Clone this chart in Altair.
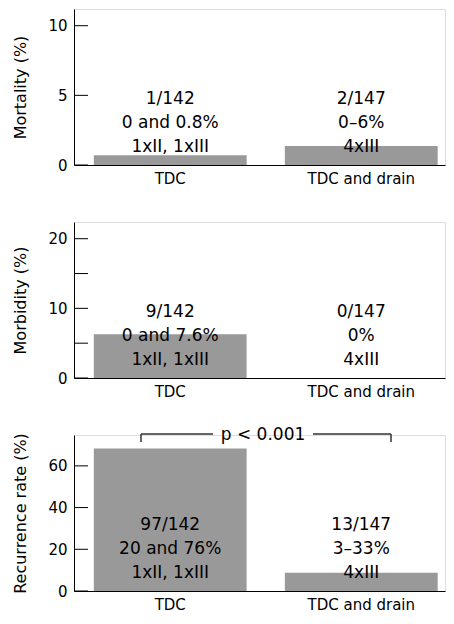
import altair as alt
import pandas as pd

groups = ["TDC", "TDC and drain"]

mortality = [0.7, 1.36]
morbidity = [6.3, 0.0]
recurrence = [68.3, 8.8]

mortality_text = [["1/142", "0 and 0.8%", "1xII, 1xIII"], ["2/147", "0–6%", "4xIII"]]
morbidity_text = [["9/142", "0 and 7.6%", "1xII, 1xIII"], ["0/147", "0%", "4xIII"]]
recurrence_text = [["97/142", "20 and 76%", "1xII, 1xIII"], ["13/147", "3–33%", "4xIII"]]

mortality_ticks = [0, 5, 10]
morbidity_ticks = [0, 5, 10, 15, 20]
recurrence_ticks = [0, 20, 40, 60]

titles = ["Mortality (%)", "Morbidity (%)", "Recurrence rate (%)"]
domain_max = [11.2, 22.4, 74.8]
p_text = "p < 0.001"

W = 371
H = 156
FONT = "DejaVu Sans"


def panel(values, lines, ticks, title, dmax, bracket=False):
    df = pd.DataFrame({
        "group": groups,
        "value": values,
        "label": ["\n".join(l) for l in lines],
    })
    xscale = alt.Scale(domain=groups, paddingInner=0.2, paddingOuter=0.071, align=0.73)
    yscale = alt.Scale(domain=[0, dmax], nice=False, zero=True)
    x = alt.X("group:N", sort=groups, scale=xscale,
              axis=alt.Axis(title=None, labelAngle=0, ticks=False, tickSize=0,
                            labelPadding=6, labelFontSize=15, domainColor="black",
                            labelColor="black", zindex=1, labelFont=FONT))
    y = alt.Y("value:Q", scale=yscale,
              axis=alt.Axis(title=title, values=ticks, ticks=False, tickSize=0, grid=False,
                            labelPadding=7, labelFontSize=15, titleFontSize=16,
                            titleFontWeight="normal", titlePadding=19,
                            domainColor="black", labelColor="black", titleColor="black",
                            zindex=1, labelFont=FONT, titleFont=FONT))
    base = alt.Chart(df)
    bars = base.mark_bar(color="#999999").encode(x=x, y=y)
    txt = base.mark_text(lineBreak="\n", fontSize=17, lineHeight=24, baseline="middle",
                         align="center", color="black", font=FONT).encode(
        x=alt.X("group:N", sort=groups, scale=xscale),
        y=alt.value(H - 66),
        text="label:N",
    )
    tick_df = pd.DataFrame({"value": ticks})
    tick_rules = alt.Chart(tick_df).mark_rule(color="black", strokeWidth=1).encode(
        y=alt.Y("value:Q", scale=yscale),
        x=alt.value(0),
        x2=alt.value(14),
    )
    layers = [bars, txt, tick_rules]
    if bracket:
        rc = "#333333"
        layers += [
            alt.Chart(df).mark_rule(color=rc).encode(x=alt.value(67), x2=alt.value(139), y=alt.value(-1)),
            alt.Chart(df).mark_rule(color=rc).encode(x=alt.value(239), x2=alt.value(317), y=alt.value(-1)),
            alt.Chart(df).mark_rule(color=rc).encode(x=alt.value(67), y=alt.value(-1), y2=alt.value(7)),
            alt.Chart(df).mark_rule(color=rc).encode(x=alt.value(317), y=alt.value(-1), y2=alt.value(7)),
            alt.Chart(pd.DataFrame({"t": [p_text]})).mark_text(
                fontSize=17, baseline="middle", align="center", color="black", font=FONT
            ).encode(x=alt.value(189), y=alt.value(0), text="t:N"),
        ]
    return alt.layer(*layers).properties(width=W, height=H)


p1 = panel(mortality, mortality_text, mortality_ticks, titles[0], domain_max[0])
p2 = panel(morbidity, morbidity_text, morbidity_ticks, titles[1], domain_max[1])
p3 = panel(recurrence, recurrence_text, recurrence_ticks, titles[2], domain_max[2], bracket=True)

chart = alt.vconcat(p1, p2, p3, spacing=57, bounds="flush").properties(
    padding={"left": 4, "top": 0, "right": 0, "bottom": 0}
).configure_view(stroke=None).configure(font=FONT)

chart.save("out.html", embed_options={"renderer": "svg", "actions": False})
